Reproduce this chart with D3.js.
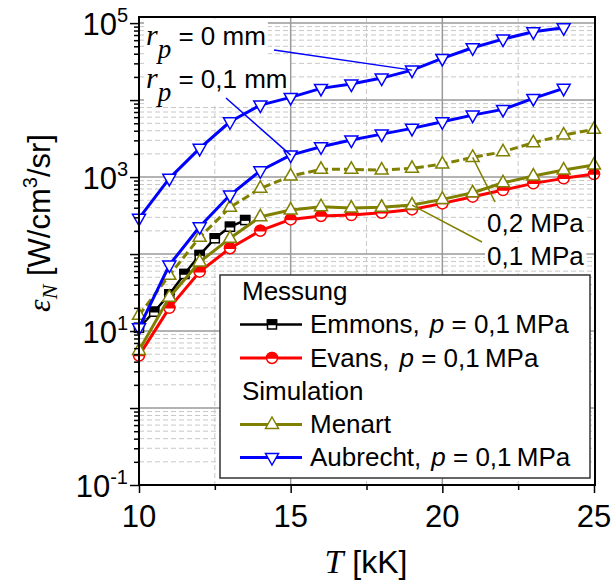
<!DOCTYPE html>
<html><head><meta charset="utf-8">
<script src="https://cdn.jsdelivr.net/npm/d3@7"></script>
<style>body{margin:0;background:#fff} svg{display:block}</style>
</head><body><svg id="c" width="613" height="581"></svg>
<script>
// ---- data ----
const tempsAubrecht = [10,11,12,13,14,15,16,17,18,19,20,21,22,23,24];
const aubrecht0  = [291,962,2360,5230,8610,10840,14190,16140,19300,24500,34800,47800,62000,77100,86900];
const aubrecht01 = [11,72,226,584,1208,1930,2475,3025,3615,4290,5230,6380,7570,10500,14200];
const tempsMenart = [10,11,12,13,14,15,16,17,18,19,20,21,22,23,24,25];
const menart02 = [16,53,165,404,713,1030,1260,1260,1233,1297,1475,1800,2130,2790,3510,4170];
const menart01 = [5.6,27.5,79,160,305,373,412,395,404,433,513,625,843,1030,1233,1432];
const tempsEvans = [10,11,12,13,14,15,16,17,18,19,20,21,22,23,24,25];
const evans = [4.8,20,59,119,201,282,312,321,344,380,455,556,678,828,962,1094];
const tempsEmmons = [10,10.5,11,11.5,12,12.5,13,13.5];
const emmons = [11,17.8,30,55,97,160,226,276];
const xMajorTicks = [10,15,20,25];
const xMinorTicks = [12.5,17.5,22.5];
const yLabelExps = [-1,1,3,5];
const legendGroups = ["Messung","Simulation"];

const SANS = "'Liberation Sans', Arial, sans-serif";
const SERIF = "'Liberation Serif', 'Times New Roman', serif";
const BLUE = "#0000ff", RED = "#ff0000", OLIVE = "#808000", BLACK = "#000";

const svg = d3.select('#c');
const x = d3.scaleLinear().domain([10,25]).range([139,594]);
const y = d3.scaleLog().domain([0.1,1.2e5]).range([485,17]);
const X0 = 139, X1 = 595, Y0 = 485, Y1 = 17;

// ---- grid ----
const grid = svg.append('g');
const yAll = y.ticks();
const isMajor = v => Math.abs(Math.log10(v) - Math.round(Math.log10(v))) < 1e-9;
grid.selectAll('line.ymin').data(yAll.filter(v => !isMajor(v))).join('line')
  .attr('x1',X0).attr('x2',X1).attr('y1',d=>y(d)).attr('y2',d=>y(d))
  .attr('stroke','#c8c8c8').attr('stroke-width',1).attr('stroke-dasharray','5,3');
grid.selectAll('line.xmin').data(xMinorTicks).join('line')
  .attr('x1',d=>x(d)).attr('x2',d=>x(d)).attr('y1',Y1).attr('y2',Y0)
  .attr('stroke','#c8c8c8').attr('stroke-width',1).attr('stroke-dasharray','5,3');
grid.selectAll('line.ymaj').data(yAll.filter(isMajor)).join('line')
  .attr('x1',X0).attr('x2',X1).attr('y1',d=>y(d)).attr('y2',d=>y(d))
  .attr('stroke','#9a9a9a').attr('stroke-width',1.5);
grid.selectAll('line.xmaj').data(xMajorTicks.slice(1,-1)).join('line')
  .attr('x1',d=>x(d)).attr('x2',d=>x(d)).attr('y1',Y1).attr('y2',Y0)
  .attr('stroke','#9a9a9a').attr('stroke-width',1.5);

// ---- annotation texts (with white background) ----
const ann = svg.append('g');
function rpLabel(xp, yb, rest){
  const t = ann.append('text').attr('x',xp).attr('y',yb).attr('fill','#000');
  t.append('tspan').attr('font-family',SERIF).attr('font-style','italic').attr('font-size',30).text('r');
  t.append('tspan').attr('font-family',SERIF).attr('font-style','italic').attr('font-size',27).attr('dy',13).text('p');
  t.append('tspan').attr('font-family',SANS).attr('font-size',26).attr('dy',-13).text('\u00a0= ' + rest);
  return t;
}
function plainLabel(xp, yb, s){
  return ann.append('text').attr('x',xp).attr('y',yb).attr('font-family',SANS).attr('font-size',26).text(s);
}
const annTexts = [rpLabel(146,45,'0 mm'), rpLabel(146,88,'0,1 mm'), plainLabel(487,232,'0,2 MPa'), plainLabel(487,265,'0,1 MPa')];
const bgLayer = svg.insert('g', 'g:nth-child(2)');
annTexts.forEach(t => {
  const b = t.node().getBBox();
  bgLayer.append('rect').attr('x',b.x-2).attr('y',b.y+1).attr('width',b.width+4).attr('height',b.height-2).attr('fill','#fff');
});

// ---- series ----
const series = svg.append('g');
const triUp = "M0,-7.5L6.5,4L-6.5,4Z";
const triDown = "M0,7.5L6.5,-4L-6.5,-4Z";
function drawLine(xs, vs, color, w, dash){
  const line = d3.line().x((d,i)=>x(xs[i])).y(d=>y(d));
  series.append('path').datum(vs).attr('d',line).attr('fill','none')
    .attr('stroke',color).attr('stroke-width',w).attr('stroke-linejoin','round')
    .attr('stroke-dasharray',dash||null);
}
function drawMarker(g, cx, cy, kind, color){
  const m = g.append('g').attr('transform',`translate(${cx},${cy})`);
  if(kind==='up' || kind==='down'){
    m.append('path').attr('d', kind==='up'?triUp:triDown).attr('fill','#fff').attr('stroke',color).attr('stroke-width',1.5);
  } else if(kind==='circle'){
    m.append('circle').attr('r',5.5).attr('fill','#fff').attr('stroke',color).attr('stroke-width',1.5);
    m.append('path').attr('d','M-5.5,0A5.5,5.5 0 0 1 5.5,0Z').attr('fill',color).attr('stroke',color).attr('stroke-width',1.5);
  } else if(kind==='square'){
    m.append('rect').attr('x',-4.5).attr('y',-4.5).attr('width',9).attr('height',9).attr('fill','#fff').attr('stroke',color).attr('stroke-width',1.5);
    m.append('rect').attr('x',-4.5).attr('y',-4.5).attr('width',9).attr('height',4.5).attr('fill',color).attr('stroke',color).attr('stroke-width',1.5);
  }
}
function drawSeries(xs, vs, color, w, dash, kind){
  drawLine(xs, vs, color, w, dash);
  vs.forEach((v,i)=>drawMarker(series, x(xs[i]), y(v), kind, color));
}
drawSeries(tempsEvans, evans, RED, 3, null, 'circle');
drawSeries(tempsEmmons, emmons, BLACK, 2.5, null, 'square');
drawSeries(tempsMenart, menart01, OLIVE, 3, null, 'up');
drawSeries(tempsMenart, menart02, OLIVE, 3, '8,4', 'up');
drawSeries(tempsAubrecht, aubrecht01, BLUE, 3, null, 'down');
drawSeries(tempsAubrecht, aubrecht0, BLUE, 3, null, 'down');

// ---- pointer lines ----
const ptr = svg.append('g').attr('stroke-width',1.5);
ptr.append('line').attr('x1',274).attr('y1',50).attr('x2',x(19)).attr('y2',y(aubrecht0[9])).attr('stroke',BLUE);
ptr.append('line').attr('x1',226).attr('y1',98).attr('x2',x(15)).attr('y2',y(aubrecht01[5])).attr('stroke',BLUE);
ptr.append('line').attr('x1',495).attr('y1',202).attr('x2',x(21)).attr('y2',y(menart02[11])).attr('stroke',OLIVE);
ptr.append('line').attr('x1',482).attr('y1',242).attr('x2',x(19)).attr('y2',y(menart01[9])).attr('stroke',OLIVE);
annTexts.forEach(t => svg.node().appendChild(t.node()));

// ---- axes ----
const yMajAxis = d3.axisLeft(y).tickValues(yAll.filter(isMajor)).tickSize(9).tickFormat('');
const yMinAxis = d3.axisLeft(y).tickValues(yAll.filter(v=>!isMajor(v))).tickSize(5).tickFormat('');
const xMajAxis = d3.axisBottom(x).tickValues(xMajorTicks).tickSize(8).tickFormat('');
const xMinAxis = d3.axisBottom(x).tickValues(xMinorTicks).tickSize(5).tickFormat('');
[[yMajAxis,`translate(${X0},0)`],[yMinAxis,`translate(${X0},0)`],[xMajAxis,`translate(0,${Y0})`],[xMinAxis,`translate(0,${Y0})`]].forEach(([a,tr])=>{
  const g = svg.append('g').attr('transform',tr).call(a);
  g.select('.domain').remove();
  g.selectAll('line').attr('stroke','#000').attr('stroke-width',1.5);
});
svg.append('rect').attr('x',X0).attr('y',Y1).attr('width',X1-X0).attr('height',Y0-Y1)
  .attr('fill','none').attr('stroke','#000').attr('stroke-width',2);

// tick labels
yLabelExps.forEach(e=>{
  const t = svg.append('text').attr('x',128).attr('y',y(Math.pow(10,e))+12).attr('text-anchor','end')
    .attr('font-family',SANS).attr('font-size',31).attr('fill','#000');
  t.append('tspan').text('10');
  t.append('tspan').attr('font-size',20).attr('dy',-13).text(String(e));
});
xMajorTicks.forEach(v=>{
  svg.append('text').attr('x',x(v)).attr('y',527).attr('text-anchor','middle')
    .attr('font-family',SANS).attr('font-size',31).text(v);
});

// axis titles
const xt = svg.append('text').attr('x',366).attr('y',573).attr('text-anchor','middle').attr('fill','#000');
xt.append('tspan').attr('font-family',SERIF).attr('font-style','italic').attr('font-size',34).text('T');
xt.append('tspan').attr('font-family',SANS).attr('font-size',32).text('\u00a0[kK]');

const yt = svg.append('text').attr('transform','translate(50,223) rotate(-90)').attr('text-anchor','middle').attr('fill','#000');
yt.append('tspan').attr('font-family',SERIF).attr('font-style','italic').attr('font-size',32).text('\u03b5');
yt.append('tspan').attr('font-family',SERIF).attr('font-style','italic').attr('font-size',22).attr('dy',7).text('N');
yt.append('tspan').attr('font-family',SANS).attr('font-size',31).attr('dy',-7).text('\u00a0[W/cm');
yt.append('tspan').attr('font-family',SANS).attr('font-size',20).attr('dy',-13).text('3');
yt.append('tspan').attr('font-family',SANS).attr('font-size',31).attr('dy',13).text('/sr]');

// ---- legend ----
const lg = svg.append('g');
lg.append('rect').attr('x',220).attr('y',275).attr('width',370).attr('height',203)
  .attr('fill','#fff').attr('stroke','#333').attr('stroke-width',1.5);
lg.append('text').attr('x',242).attr('y',300).attr('font-family',SANS).attr('font-size',26).text(legendGroups[0]);
lg.append('text').attr('x',242).attr('y',400).attr('font-family',SANS).attr('font-size',26).text(legendGroups[1]);
const items = [
  {name:'Emmons,', p:true, color:BLACK, kind:'square', w:2.5, yb:333},
  {name:'Evans,', p:true, color:RED, kind:'circle', w:3, yb:366.5},
  {name:'Menart', p:false, color:OLIVE, kind:'up', w:3, yb:433},
  {name:'Aubrecht,', p:true, color:BLUE, kind:'down', w:3, yb:466}
];
items.forEach(it=>{
  const ly = it.yb - 8.5;
  lg.append('line').attr('x1',240).attr('x2',302).attr('y1',ly).attr('y2',ly).attr('stroke',it.color).attr('stroke-width',it.w);
  drawMarker(lg, 272, ly, it.kind, it.color);
  const t = lg.append('text').attr('x',310).attr('y',it.yb).attr('font-family',SANS).attr('font-size',26);
  t.append('tspan').text(it.name);
  if(it.p){
    t.append('tspan').attr('dx',10).attr('font-style','italic').text('p');
    t.append('tspan').text(' = 0,1\u2009MPa');
  }
});
</script></body></html>
